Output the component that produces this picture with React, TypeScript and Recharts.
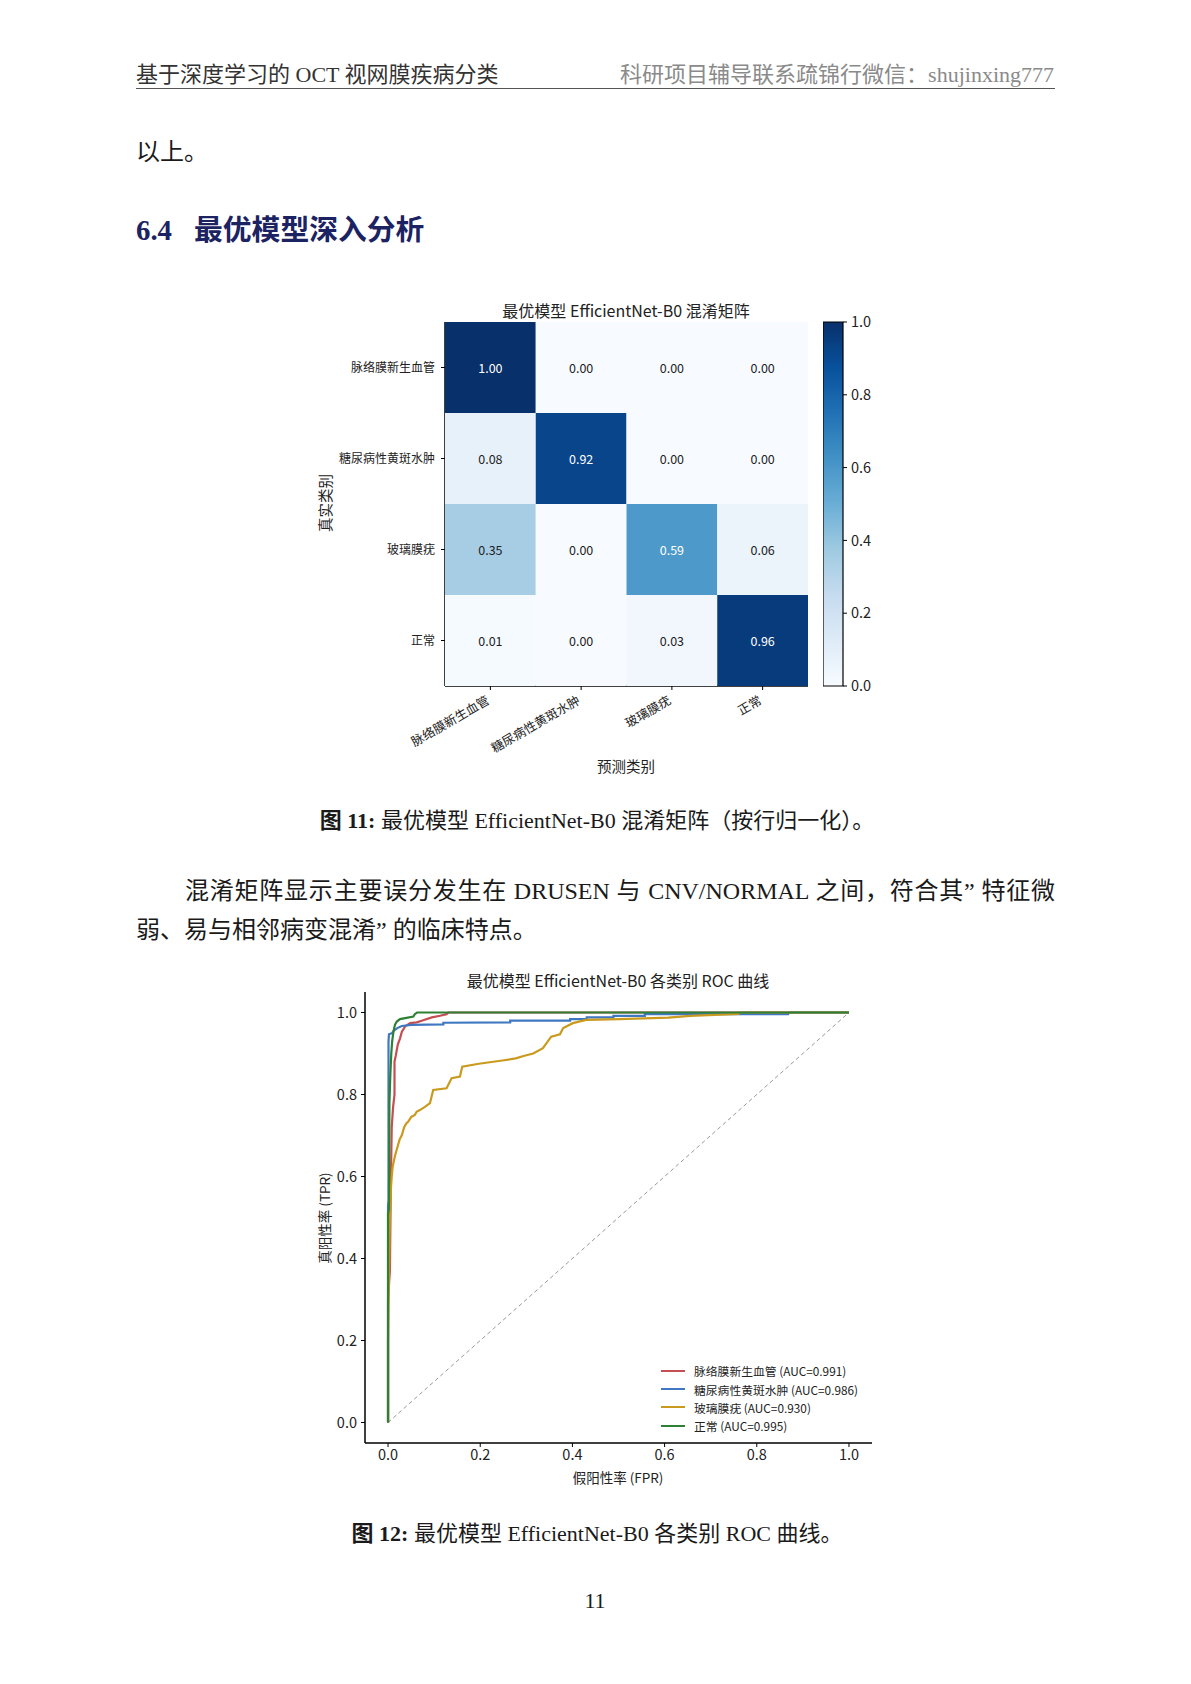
import React from 'react'
import { ScatterChart, Scatter, XAxis, YAxis, BarChart, Bar, LineChart, Line } from 'recharts'

// ---- confusion matrix (row-normalised) ----
const classNames = ['脉络膜新生血管', '糖尿病性黄斑水肿', '玻璃膜疣', '正常']
const cmRowCnv = [1.0, 0.0, 0.0, 0.0]
const cmRowDme = [0.08, 0.92, 0.0, 0.0]
const cmRowDrusen = [0.35, 0.0, 0.59, 0.06]
const cmRowNormal = [0.01, 0.0, 0.03, 0.96]
const cmRows = [cmRowCnv, cmRowDme, cmRowDrusen, cmRowNormal]
const colorbarTicks = [0, 0.2, 0.4, 0.6, 0.8, 1.0]

// ---- ROC curves, [fpr, tpr] ----
const rocTicks = [0, 0.2, 0.4, 0.6, 0.8, 1.0]
const aucValues = [0.991, 0.986, 0.93, 0.995]
const rocDiagonal: [number, number][] = [[0, 0], [1, 1]]
const rocCnv: [number, number][] = [
  [0, 0], [0, 0.3], [0.004, 0.37], [0.006, 0.58], [0.008, 0.72], [0.011, 0.77], [0.014, 0.8],
  [0.014, 0.88], [0.017, 0.896], [0.021, 0.921], [0.026, 0.937], [0.03, 0.953], [0.037, 0.966],
  [0.048, 0.974], [0.062, 0.976], [0.073, 0.98], [0.095, 0.988], [0.113, 0.992], [0.127, 0.996],
  [0.131, 1.0], [1, 1],
]
const rocDme: [number, number][] = [
  [0, 0], [0, 0.53], [0.001, 0.54], [0.001, 0.93], [0.002, 0.947], [0.008, 0.949], [0.012, 0.955],
  [0.02, 0.962], [0.03, 0.967], [0.05, 0.97], [0.12, 0.971], [0.12, 0.975], [0.265, 0.976],
  [0.265, 0.98], [0.395, 0.98], [0.395, 0.984], [0.431, 0.984], [0.431, 0.988], [0.489, 0.988],
  [0.489, 0.992], [0.557, 0.992], [0.557, 0.996], [0.868, 0.996], [0.87, 1.0], [1, 1],
]
const rocDrusen: [number, number][] = [
  [0, 0], [0, 0.2], [0.002, 0.37], [0.004, 0.5], [0.006, 0.567], [0.008, 0.6], [0.01, 0.624],
  [0.015, 0.65], [0.02, 0.67], [0.025, 0.69], [0.03, 0.701], [0.035, 0.72], [0.04, 0.73],
  [0.044, 0.734], [0.05, 0.745], [0.058, 0.75], [0.062, 0.758], [0.069, 0.762], [0.08, 0.77],
  [0.091, 0.779], [0.098, 0.811], [0.127, 0.815], [0.138, 0.84], [0.156, 0.844], [0.161, 0.868],
  [0.197, 0.875], [0.248, 0.883], [0.277, 0.888], [0.294, 0.894], [0.315, 0.9], [0.336, 0.913],
  [0.354, 0.941], [0.373, 0.947], [0.38, 0.962], [0.401, 0.974], [0.43, 0.982], [0.503, 0.984],
  [0.608, 0.9876], [0.655, 0.9917], [0.76, 0.9966], [0.76, 1.0], [1, 1],
]
const rocNormal: [number, number][] = [
  [0, 0], [0, 0.51], [0.002, 0.52], [0.003, 0.78], [0.005, 0.85], [0.007, 0.9], [0.009, 0.93],
  [0.012, 0.955], [0.015, 0.97], [0.019, 0.978], [0.026, 0.984], [0.04, 0.987], [0.055, 0.99],
  [0.058, 0.996], [0.063, 1.0], [1, 1],
]
const rocColors = ['#c44e52', '#3f78c1', '#c99a1e', '#2e8035']
const rocCurves = [rocCnv, rocDme, rocDrusen, rocNormal]

const SANS = '"Noto Sans CJK SC", "Noto Sans", sans-serif'
const SERIF = '"Liberation Serif", "DejaVu Serif", "Noto Sans CJK SC", serif'

const BLUES = ['#f7fbff', '#deebf7', '#c6dbef', '#9ecae1', '#6baed6', '#4292c6', '#2171b5', '#08519c', '#08306b']

function blues(v: number) {
  const t = Math.max(0, Math.min(1, v)) * (BLUES.length - 1)
  const i = Math.min(BLUES.length - 2, Math.floor(t))
  const f = t - i
  const a = BLUES[i], b = BLUES[i + 1]
  const ch = (h: string, k: number) => parseInt(h.slice(1 + k * 2, 3 + k * 2), 16)
  const c = [0, 1, 2].map(k => Math.round(ch(a, k) + (ch(b, k) - ch(a, k)) * f))
  return `rgb(${c[0]},${c[1]},${c[2]})`
}

const toPts = (arr: [number, number][]) => arr.map(([fpr, tpr]) => ({ fpr, tpr }))

// heatmap layout
const CM_W = 520
const CM_H = 480
const CM_MARGIN = { top: 32, right: 12, left: 25, bottom: 0 }
const CM_YAXIS_W = 120
const CM_XAXIS_H = 84
const cellW = (CM_W - CM_MARGIN.left - CM_MARGIN.right - CM_YAXIS_W) / 4
const cellH = (CM_H - CM_MARGIN.top - CM_MARGIN.bottom - CM_XAXIS_H) / 4

const cmCells = cmRows.flatMap((row, r) => row.map((v, c) => ({ col: c, row: r, v })))

function HeatCell(props: any) {
  const { cx, cy, payload } = props
  return (
    <g>
      <rect x={cx - cellW / 2} y={cy - cellH / 2} width={cellW} height={cellH} fill={blues(payload.v)} />
      <text x={cx} y={cy} textAnchor="middle" dominantBaseline="central" fontSize={12.5}
        fontFamily={SANS} fill={payload.v > 0.5 ? '#fff' : '#222'}>
        {payload.v.toFixed(2)}
      </text>
    </g>
  )
}

function RotTick(props: any) {
  const { x, y, payload } = props
  const by = y + 10
  return (
    <text x={x} y={by} textAnchor="end" transform={`rotate(-30, ${x}, ${by})`} fontSize={12.5}
      fontFamily={SANS} fill="#222">
      {classNames[payload.value]}
    </text>
  )
}

function Txt({ x, y, size, align = 'left', children, style }: any) {
  const lh = Math.round(size * 1.5)
  const s: React.CSSProperties = {
    position: 'absolute', top: y - lh / 2, height: lh, lineHeight: `${lh}px`,
    fontSize: size, whiteSpace: 'nowrap', ...style,
  }
  if (align === 'left') s.left = x
  else if (align === 'right') s.right = 1191 - x
  else { s.left = x; s.transform = 'translateX(-50%)' }
  return <div style={s}>{children}</div>
}

function VTxt({ x, y, size, children }: any) {
  return (
    <div style={{
      position: 'absolute', left: x, top: y, transform: 'translate(-50%, -50%) rotate(-90deg)',
      fontSize: size, fontFamily: SANS, color: '#222', whiteSpace: 'nowrap', lineHeight: 1,
    }}>{children}</div>
  )
}

const axisTick = { fontSize: 14.5, fill: '#222', fontFamily: SANS }

export default function App() {
  const serif = { fontFamily: SERIF, color: '#1a1a1a' }
  return (
    <div style={{ position: 'absolute', left: 0, top: 0, width: 1191, height: 1684, background: '#fff' }}>
      {/* running header */}
      <Txt x={136} y={74} size={22} style={{ ...serif, color: '#333' }}>基于深度学习的 OCT 视网膜疾病分类</Txt>
      <Txt x={1054} y={74} size={22} align="right" style={{ ...serif, color: '#8a8a8a' }}>科研项目辅导联系疏锦行微信：shujinxing777</Txt>
      <div style={{ position: 'absolute', left: 136, top: 88, width: 919, height: 1.3, background: '#555' }} />

      <Txt x={136} y={152} size={24} style={serif}>以上。</Txt>
      <Txt x={136} y={230} size={28.8} style={{ ...serif, color: '#1c2362', fontWeight: 'bold' }}>
        6.4<span style={{ display: 'inline-block', width: 22 }} />最优模型深入分析
      </Txt>

      {/* confusion matrix */}
      <Txt x={626} y={310} size={16} align="center" style={{ fontFamily: SANS, color: '#222' }}>
        最优模型 EfficientNet-B0 混淆矩阵
      </Txt>
      <div style={{ position: 'absolute', left: 300, top: 290 }}>
        <ScatterChart width={CM_W} height={CM_H} margin={CM_MARGIN}>
          <Scatter data={cmCells} shape={HeatCell} isAnimationActive={false} />
          <XAxis dataKey="col" type="number" domain={[-0.5, 3.5]} ticks={[0, 1, 2, 3]} interval={0}
            height={CM_XAXIS_H} tick={RotTick} tickSize={4} tickMargin={3}
            axisLine={{ stroke: '#000', strokeWidth: 1.5 }} tickLine={{ stroke: '#000' }} />
          <YAxis dataKey="row" type="number" domain={[-0.5, 3.5]} reversed ticks={[0, 1, 2, 3]}
            interval={0} width={CM_YAXIS_W} tickFormatter={(i: number) => classNames[i]}
            tick={{ fontSize: 12, fill: '#222', fontFamily: SANS }} tickSize={4} tickMargin={6}
            axisLine={{ stroke: '#000', strokeWidth: 1.5 }} tickLine={{ stroke: '#000' }} />
        </ScatterChart>
      </div>
      <div style={{ position: 'absolute', left: 823, top: 297 }}>
        <BarChart width={72} height={414} data={[{ v: 1 }]} margin={{ top: 25, right: 0, bottom: 25, left: 0 }}
          barCategoryGap={0}>
          <defs>
            <linearGradient id="bluesGrad" x1="0" y1="1" x2="0" y2="0">
              {BLUES.map((c, i) => <stop key={i} offset={`${(i / (BLUES.length - 1)) * 100}%`} stopColor={c} />)}
            </linearGradient>
          </defs>
          <XAxis hide />
          <YAxis orientation="right" type="number" domain={[0, 1]} ticks={colorbarTicks} width={52}
            interval={0} tickFormatter={(v: number) => v.toFixed(1)} tick={axisTick} axisLine={false}
            tickLine={{ stroke: '#000' }} tickSize={4} tickMargin={4} />
          <Bar dataKey="v" fill="url(#bluesGrad)" stroke="#000" strokeWidth={1.2} isAnimationActive={false} />
        </BarChart>
      </div>
      <VTxt x={325} y={503} size={14.5}>真实类别</VTxt>
      <Txt x={626} y={766} size={14.5} align="center" style={{ fontFamily: SANS, color: '#222' }}>预测类别</Txt>

      <Txt x={597} y={820} size={22} align="center" style={serif}>
        <b>图 11:</b> 最优模型 EfficientNet-B0 混淆矩阵（按行归一化）。
      </Txt>

      {/* paragraph */}
      <div style={{
        position: 'absolute', left: 185, top: 891 - 18, width: 870, height: 36, lineHeight: '36px',
        fontSize: 24, textAlign: 'justify', textAlignLast: 'justify', whiteSpace: 'nowrap', ...serif,
      }}>
        混淆矩阵显示主要误分发生在 DRUSEN 与 CNV/NORMAL 之间，符合其” 特征微
      </div>
      <Txt x={136} y={930} size={24} style={serif}>弱、易与相邻病变混淆” 的临床特点。</Txt>

      {/* ROC */}
      <Txt x={618} y={980} size={16} align="center" style={{ fontFamily: SANS, color: '#222' }}>
        最优模型 EfficientNet-B0 各类别 ROC 曲线
      </Txt>
      <div style={{ position: 'absolute', left: 300, top: 960 }}>
        <LineChart width={600} height={520} margin={{ top: 32, right: 28, left: 5, bottom: 0 }}>
          <XAxis dataKey="fpr" type="number" domain={[-0.05, 1.05]} ticks={rocTicks} interval={0}
            allowDataOverflow height={37} tickFormatter={(v: number) => v.toFixed(1)} tick={axisTick}
            axisLine={{ stroke: '#000', strokeWidth: 1.5 }} tickLine={{ stroke: '#000' }} tickSize={4} tickMargin={3} />
          <YAxis type="number" domain={[-0.05, 1.05]} ticks={rocTicks} interval={0} allowDataOverflow
            width={60} tickFormatter={(v: number) => v.toFixed(1)} tick={axisTick}
            axisLine={{ stroke: '#000', strokeWidth: 1.5 }} tickLine={{ stroke: '#000' }} tickSize={4} tickMargin={4} />
          <Line data={toPts(rocDiagonal)} dataKey="tpr" type="linear" stroke="#999" strokeWidth={1}
            strokeDasharray="4 3" dot={false} isAnimationActive={false} />
          {rocCurves.map((curve, i) => (
            <Line key={i} data={toPts(curve)} dataKey="tpr" type="linear" stroke={rocColors[i]}
              strokeWidth={2.2} dot={false} isAnimationActive={false} />
          ))}
        </LineChart>
      </div>
      <div style={{ position: 'absolute', left: 661, top: 1361.5, fontFamily: SANS, fontSize: 11.8, color: '#222' }}>
        {classNames.map((name, i) => (
          <div key={i} style={{ display: 'flex', alignItems: 'center', height: 18.4, whiteSpace: 'nowrap' }}>
            <span style={{ display: 'inline-block', width: 24, height: 2, background: rocColors[i], marginRight: 9 }} />
            {name} (AUC={aucValues[i].toFixed(3)})
          </div>
        ))}
      </div>
      <VTxt x={325} y={1218} size={13.5}>真阳性率 (TPR)</VTxt>
      <Txt x={618} y={1477} size={13.5} align="center" style={{ fontFamily: SANS, color: '#222' }}>假阳性率 (FPR)</Txt>

      <Txt x={597} y={1533} size={22} align="center" style={serif}>
        <b>图 12:</b> 最优模型 EfficientNet-B0 各类别 ROC 曲线。
      </Txt>
      <Txt x={595} y={1600} size={22} align="center" style={serif}>11</Txt>
    </div>
  )
}
